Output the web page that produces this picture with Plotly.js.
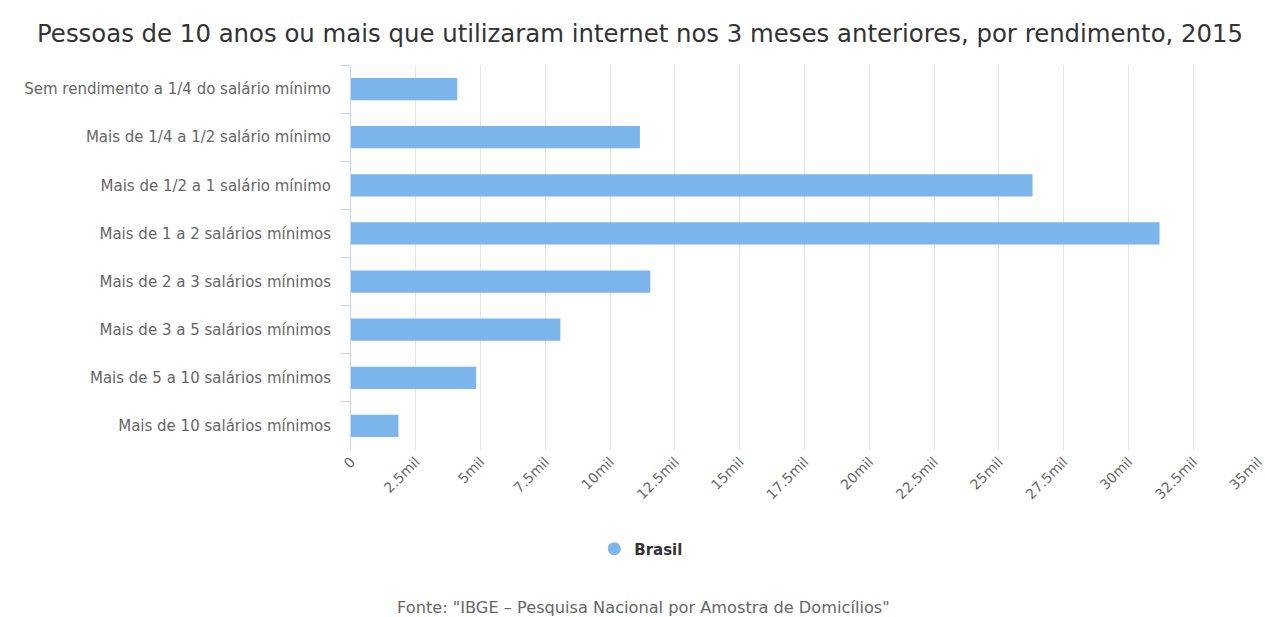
<!DOCTYPE html>
<html>
<head>
<meta charset="utf-8">
<script src="https://cdn.plot.ly/plotly-3.0.1.min.js"></script>
<style>html,body{margin:0;padding:0;background:#fff;}#chart{width:1265px;height:617px;}</style>
</head>
<body>
<div id="chart"></div>
<script>
const categories = [
  "Sem rendimento a 1/4 do salário mínimo",
  "Mais de 1/4 a 1/2 salário mínimo",
  "Mais de 1/2 a 1 salário mínimo",
  "Mais de 1 a 2 salários mínimos",
  "Mais de 2 a 3 salários mínimos",
  "Mais de 3 a 5 salários mínimos",
  "Mais de 5 a 10 salários mínimos",
  "Mais de 10 salários mínimos"
];
const brasil = [4100000, 11150000, 26300000, 31200000, 11550000, 8080000, 4830000, 1830000];
const tickValues = [0, 2500000, 5000000, 7500000, 10000000, 12500000, 15000000, 17500000, 20000000, 22500000, 25000000, 27500000, 30000000, 32500000, 35000000];
const tickLabels = ["0", "2.5mil", "5mil", "7.5mil", "10mil", "12.5mil", "15mil", "17.5mil", "20mil", "22.5mil", "25mil", "27.5mil", "30mil", "32.5mil", "35mil"];
const seriesName = "Brasil";
const titleText = "Pessoas de 10 anos ou mais que utilizaram internet nos 3 meses anteriores, por rendimento, 2015";
const sourceText = "Fonte: \"IBGE – Pesquisa Nacional por Amostra de Domicílios\"";

const font = "DejaVu Sans, Verdana, sans-serif";
const color = "#7cb5ec";

const traces = [
  {
    type: "bar", orientation: "h",
    y: categories, x: brasil,
    marker: {color: color, line: {width: 0}},
    showlegend: false, hoverinfo: "x+y"
  },
  {
    type: "scatter", mode: "markers",
    x: [null], y: [null], name: seriesName,
    marker: {color: color, size: 13, symbol: "circle"},
    showlegend: true
  }
];

const layout = {
  width: 1265, height: 617,
  paper_bgcolor: "#fff", plot_bgcolor: "#fff",
  margin: {l: 351, r: 7, t: 65, b: 167},
  title: {text: titleText, x: 0.506, xanchor: "center", y: 0.945, yanchor: "middle",
          font: {family: font, size: 24.4, color: "#333"}},
  bargap: 0.54,
  xaxis: {
    range: [0, 35000000], tickvals: tickValues, ticktext: tickLabels,
    tickangle: -45, showgrid: true, gridcolor: "#e6e6e6", gridwidth: 1,
    zeroline: false, showline: false, ticks: "", ticklabeloverflow: "allow",
    tickfont: {family: font, size: 14, color: "#666"}, fixedrange: true
  },
  yaxis: {
    type: "category", autorange: "reversed",
    showline: true, linecolor: "#ccd6eb", linewidth: 1,
    ticks: "outside", tickson: "boundaries", ticklen: 10, tickcolor: "#ccd6eb",
    ticklabelstandoff: 16,
    showgrid: false, zeroline: false,
    tickfont: {family: font, size: 15, color: "#666"}, fixedrange: true
  },
  legend: {orientation: "h", x: 0.32, xanchor: "center", y: -0.257, yanchor: "middle",
           font: {family: font, size: 15, color: "#333", weight: "bold"}},
  annotations: [{
    text: sourceText, xref: "paper", yref: "paper", x: 0.323, xanchor: "center",
    y: -0.408, yanchor: "middle", showarrow: false,
    font: {family: font, size: 16.2, color: "#666"}
  }]
};

Plotly.newPlot("chart", traces, layout, {displayModeBar: false, staticPlot: true});
</script>
</body>
</html>
